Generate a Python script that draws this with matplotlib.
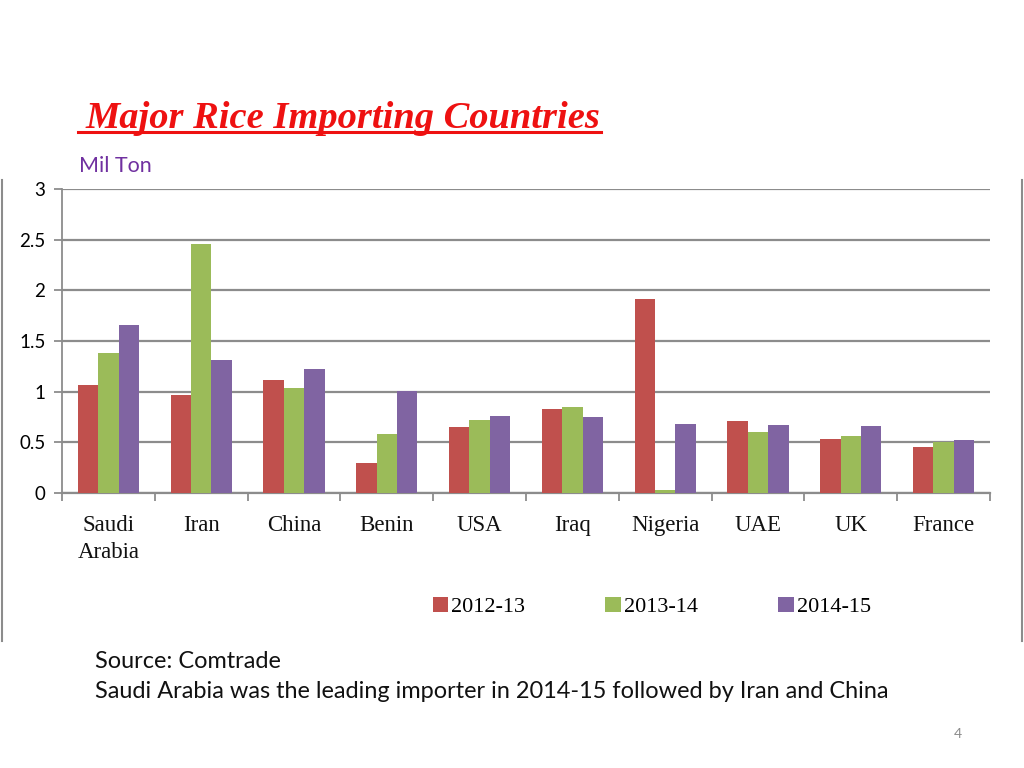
import matplotlib
matplotlib.use("Agg")
import matplotlib.pyplot as plt
import numpy as np
from matplotlib.lines import Line2D
from matplotlib.patches import Patch

countries = ["Saudi\nArabia", "Iran", "China", "Benin", "USA", "Iraq", "Nigeria", "UAE", "UK", "France"]
series_names = ["2012-13", "2013-14", "2014-15"]
v_2012 = [1.07, 0.97, 1.12, 0.30, 0.65, 0.83, 1.91, 0.71, 0.53, 0.45]
v_2013 = [1.38, 2.46, 1.04, 0.58, 0.72, 0.85, 0.03, 0.60, 0.56, 0.50]
v_2014 = [1.66, 1.31, 1.22, 1.01, 0.76, 0.75, 0.68, 0.67, 0.66, 0.52]
yticks = [0, 0.5, 1, 1.5, 2, 2.5, 3]
ytick_labels = ["0", "0.5", "1", "1.5", "2", "2.5", "3"]
colors = ["#C0504D", "#9BBB59", "#8064A2"]

W, H = 1024, 768
fig = plt.figure(figsize=(W / 100, H / 100), dpi=100)
fig.patch.set_facecolor("white")

ax = fig.add_axes([62 / W, 1 - 493 / H, (990 - 62) / W, (493 - 189) / H])
x = np.arange(len(countries))
bw = 0.22
for i, (vals, c, name) in enumerate(zip([v_2012, v_2013, v_2014], colors, series_names)):
    ax.bar(x + (i - 1) * bw, vals, width=bw, color=c, label=name, zorder=3)

ax.set_xlim(-0.5, len(countries) - 0.5)
ax.set_ylim(0, 3)
ax.set_yticks(yticks)
ax.set_yticklabels(ytick_labels, fontfamily="Lato", fontsize=13.5, color="black")
ax.set_xticks(x)
ax.set_xticklabels(countries, fontfamily="Liberation Serif", fontsize=16.5, color="#111111",
                   linespacing=1.35, va="top")
ax.set_xticks(np.arange(len(countries) + 1) - 0.5, minor=True)
ax.tick_params(axis="x", which="major", length=0, pad=16)
ax.tick_params(axis="x", which="minor", length=6, width=1.3, color="#8c8c8c", direction="out")
ax.tick_params(axis="y", length=6, width=1.3, color="#8c8c8c", direction="out", pad=6)

ax.grid(axis="y", color="#8c8c8c", linewidth=1.6, zorder=0)
ax.set_axisbelow(True)
for s in ["top", "right"]:
    ax.spines[s].set_visible(False)
ax.spines["left"].set_color("#8c8c8c")
ax.spines["left"].set_linewidth(1.3)
ax.spines["bottom"].set_color("#8c8c8c")
ax.spines["bottom"].set_linewidth(1.6)

# Legend
handles = [Patch(facecolor=c, edgecolor="none") for c in colors]
fig.legend(handles, series_names, loc="center", bbox_to_anchor=(652 / W, 1 - 607 / H),
           ncol=3, frameon=False, prop={"family": "Liberation Serif", "size": 16},
           handlelength=0.7, handleheight=0.7, handletextpad=0.15, columnspacing=3.6)

# Title
fig.text(86 / W, 1 - 118 / H, "Major Rice Importing Countries", color="#EE1111",
         fontfamily="Liberation Serif", fontweight="bold", fontstyle="italic",
         fontsize=27.7, va="center", ha="left")
fig.add_artist(Line2D([78 / W, 601 / W], [1 - 132 / H, 1 - 132 / H], color="#EE1111",
                      linewidth=2.2, transform=fig.transFigure))
fig.text(79 / W, 1 - 166 / H, "Mil Ton", color="#7030A0", fontfamily="Lato", fontsize=15.5,
         va="center", ha="left")

# Frame lines
for xp in [2, 1022]:
    fig.add_artist(Line2D([xp / W, xp / W], [1 - 180 / H, 1 - 641 / H], color="#8c8c8c",
                          linewidth=1.5, transform=fig.transFigure))

# Source text
fig.text(95 / W, 1 - 661 / H, "Source: Comtrade", fontfamily="Lato", fontsize=16.9,
         color="#111111", va="center", ha="left")
fig.text(95 / W, 1 - 691 / H,
         "Saudi Arabia was the leading importer in 2014-15 followed by Iran and China",
         fontfamily="Lato", fontsize=16.9, color="#111111", va="center", ha="left")
fig.text(958 / W, 1 - 734 / H, "4", fontfamily="Lato", fontsize=10, color="#8c8c8c",
         va="center", ha="center")

fig.savefig("out.png", dpi=100)
